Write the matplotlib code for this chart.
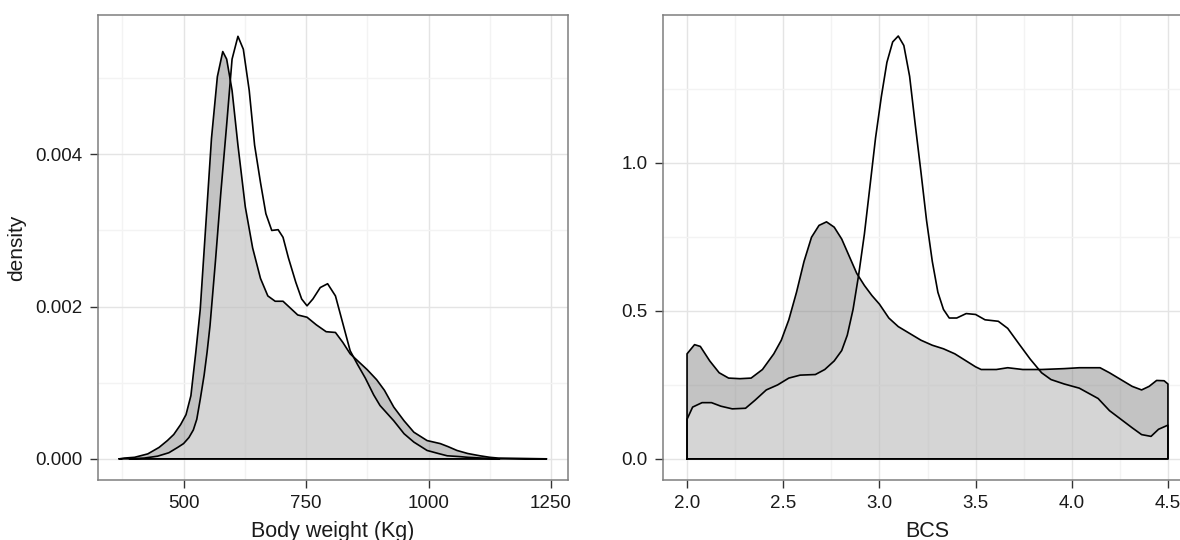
import matplotlib
matplotlib.use("Agg")
import matplotlib.pyplot as plt
from matplotlib.ticker import FixedLocator

plt.rcParams["font.family"] = ["Liberation Sans", "DejaVu Sans"]

# Body weight densities (kg, density) for the two groups
weight_x_1 = [369, 379, 400, 427, 450, 467, 480, 494, 505, 515, 525, 534, 546, 557, 569, 580,
              588, 599, 611, 626, 641, 657, 672, 687, 703, 718, 733, 752, 771, 791, 810, 825,
              840, 855, 875, 894, 910, 929, 950, 970, 997, 1024, 1040, 1058, 1080, 1105, 1125,
              1142, 1241]
weight_y_1 = [0.0, 0.00001, 0.00002, 0.000065, 0.00015, 0.00024, 0.00032, 0.00045, 0.00058,
              0.00083, 0.0014, 0.00196, 0.00313, 0.00421, 0.00502, 0.00535, 0.00525, 0.00484,
              0.00412, 0.00331, 0.00277, 0.00237, 0.00214, 0.00207, 0.00207, 0.00198, 0.00189,
              0.00186, 0.00176, 0.00167, 0.00166, 0.00153, 0.00138, 0.00129, 0.00117, 0.00104,
              0.00090, 0.00068, 0.00050, 0.00035, 0.00024, 0.00020, 0.00016, 0.00011, 0.00007,
              0.00004, 0.00002, 0.00001, 0.0]

weight_x_2 = [390, 420, 447, 470, 488, 500, 511, 520, 527, 534, 542, 548, 554, 565, 576, 588,
              599, 611, 622, 634, 645, 657, 668, 680, 693, 703, 714, 729, 741, 752, 764, 779,
              794, 810, 825, 840, 855, 871, 888, 901, 929, 950, 970, 997, 1020, 1038, 1062,
              1080, 1108, 1145]
weight_y_2 = [0.0, 0.00001, 0.000035, 0.00008, 0.00015, 0.0002, 0.00028, 0.00038, 0.00052,
              0.00078, 0.0011, 0.0014, 0.00175, 0.00259, 0.00349, 0.00439, 0.00525, 0.00555,
              0.00538, 0.00484, 0.00412, 0.00363, 0.00322, 0.003, 0.00301, 0.00291, 0.00264,
              0.00232, 0.0021, 0.00201, 0.0021, 0.00225, 0.0023, 0.00214, 0.00178, 0.00142,
              0.00124, 0.00106, 0.00084, 0.0007, 0.0005, 0.00033, 0.00022, 0.00011, 0.00007,
              0.00004, 0.00003, 0.00002, 0.00001, 0.0]

# Body condition score densities for the two groups
bcs_x_1 = [2.0, 2.039, 2.069, 2.118, 2.167, 2.216, 2.275, 2.333, 2.392, 2.451, 2.49, 2.529,
           2.569, 2.608, 2.647, 2.686, 2.725, 2.765, 2.804, 2.843, 2.882, 2.922, 2.961, 3.0,
           3.049, 3.098, 3.157, 3.216, 3.275, 3.333, 3.392, 3.451, 3.5, 3.529, 3.608, 3.667,
           3.745, 3.843, 3.961, 4.039, 4.147, 4.196, 4.255, 4.314, 4.363, 4.402, 4.441, 4.48,
           4.5]
bcs_y_1 = [0.355, 0.386, 0.38, 0.331, 0.291, 0.273, 0.271, 0.273, 0.302, 0.355, 0.401, 0.47,
           0.563, 0.667, 0.749, 0.789, 0.801, 0.783, 0.743, 0.685, 0.627, 0.586, 0.552, 0.523,
           0.476, 0.447, 0.424, 0.401, 0.384, 0.372, 0.355, 0.331, 0.311, 0.302, 0.302, 0.308,
           0.302, 0.302, 0.305, 0.308, 0.308, 0.291, 0.268, 0.245, 0.233, 0.245, 0.265, 0.264,
           0.253]

bcs_x_2 = [2.0, 2.029, 2.078, 2.127, 2.176, 2.235, 2.304, 2.353, 2.412, 2.471, 2.529, 2.588,
           2.667, 2.716, 2.765, 2.804, 2.833, 2.863, 2.892, 2.922, 2.951, 2.98, 3.01, 3.039,
           3.069, 3.098, 3.127, 3.157, 3.186, 3.216, 3.245, 3.275, 3.304, 3.333, 3.363, 3.402,
           3.451, 3.5, 3.549, 3.618, 3.667, 3.725, 3.784, 3.843, 3.892, 3.961, 4.039, 4.137,
           4.196, 4.255, 4.314, 4.363, 4.412, 4.451, 4.5]
bcs_y_2 = [0.134, 0.175, 0.19, 0.19, 0.178, 0.169, 0.171, 0.198, 0.233, 0.25, 0.273, 0.283,
           0.285, 0.302, 0.331, 0.366, 0.418, 0.505, 0.621, 0.76, 0.922, 1.085, 1.224, 1.34,
           1.409, 1.429, 1.397, 1.293, 1.131, 0.969, 0.806, 0.667, 0.563, 0.505, 0.476, 0.476,
           0.491, 0.488, 0.47, 0.465, 0.441, 0.389, 0.337, 0.291, 0.268, 0.253, 0.239, 0.204,
           0.163, 0.134, 0.105, 0.082, 0.076, 0.1, 0.114]

weight_ticks = [500, 750, 1000, 1250]
weight_labels = ["500", "750", "1000", "1250"]
weight_dens_ticks = [0.0, 0.002, 0.004]
weight_dens_labels = ["0.000", "0.002", "0.004"]
bcs_ticks = [2.0, 2.5, 3.0, 3.5, 4.0, 4.5]
bcs_labels = ["2.0", "2.5", "3.0", "3.5", "4.0", "4.5"]
bcs_dens_ticks = [0.0, 0.5, 1.0]
bcs_dens_labels = ["0.0", "0.5", "1.0"]

FILL_1 = (0.5, 0.5, 0.5, 0.47)
FILL_2 = (1.0, 1.0, 1.0, 0.30)
TICK_FS = 13.5
TITLE_FS = 15.5


def polygon(xs, ys):
    px = [xs[0]] + list(xs) + [xs[-1], xs[0]]
    py = [0.0] + list(ys) + [0.0, 0.0]
    return px, py


def style(ax, xticks, xlabels, yticks, ylabels, xminor, yminor):
    ax.set_facecolor("white")
    for s in ax.spines.values():
        s.set_color("#7f7f7f")
        s.set_linewidth(1.1)
    ax.set_xticks(xticks)
    ax.set_xticklabels(xlabels)
    ax.set_yticks(yticks)
    ax.set_yticklabels(ylabels)
    ax.xaxis.set_minor_locator(FixedLocator(xminor))
    ax.yaxis.set_minor_locator(FixedLocator(yminor))
    ax.grid(which="major", color="#e4e4e4", lw=1.0, zorder=0)
    ax.grid(which="minor", color="#f3f3f3", lw=1.0, zorder=0)
    ax.set_axisbelow(True)
    ax.tick_params(which="major", length=6, width=1.0, color="#333333",
                   labelsize=TICK_FS, labelcolor="#1a1a1a", pad=5)
    ax.tick_params(which="minor", length=0)


def draw(ax, x1, y1, x2, y2):
    p1 = polygon(x1, y1)
    p2 = polygon(x2, y2)
    ax.fill(*p1, facecolor=FILL_1, edgecolor="none", zorder=2)
    ax.fill(*p2, facecolor=FILL_2, edgecolor="none", zorder=3)
    ax.plot(*p1, color="black", lw=1.2, zorder=4)
    ax.plot(*p2, color="black", lw=1.2, zorder=5)


fig = plt.figure(figsize=(11.8, 5.4), dpi=100)
W, H = 1180, 540

ax1 = fig.add_axes([98 / W, 60 / H, 470 / W, 465 / H])
draw(ax1, weight_x_1, weight_y_1, weight_x_2, weight_y_2)
style(ax1, weight_ticks, weight_labels, weight_dens_ticks, weight_dens_labels,
      [375, 625, 875, 1125], [0.001, 0.003, 0.005])
ax1.set_xlim(325.4, 1284.6)
ax1.set_ylim(-0.000278, 0.00583)
ax1.set_xlabel("Body weight (Kg)", fontsize=TITLE_FS, color="#1a1a1a", labelpad=6)
ax1.set_ylabel("density", fontsize=TITLE_FS - 0.5, color="#1a1a1a", labelpad=7)

ax2 = fig.add_axes([663 / W, 60 / H, 529 / W, 465 / H])
draw(ax2, bcs_x_1, bcs_y_1, bcs_x_2, bcs_y_2)
style(ax2, bcs_ticks, bcs_labels, bcs_dens_ticks, bcs_dens_labels,
      [2.25, 2.75, 3.25, 3.75, 4.25], [0.25, 0.75, 1.25])
ax2.set_xlim(1.875, 4.625)
ax2.set_ylim(-0.0714, 1.5)
ax2.set_xlabel("BCS", fontsize=TITLE_FS, color="#1a1a1a", labelpad=6)

fig.savefig("out.png", dpi=100, facecolor="white")
